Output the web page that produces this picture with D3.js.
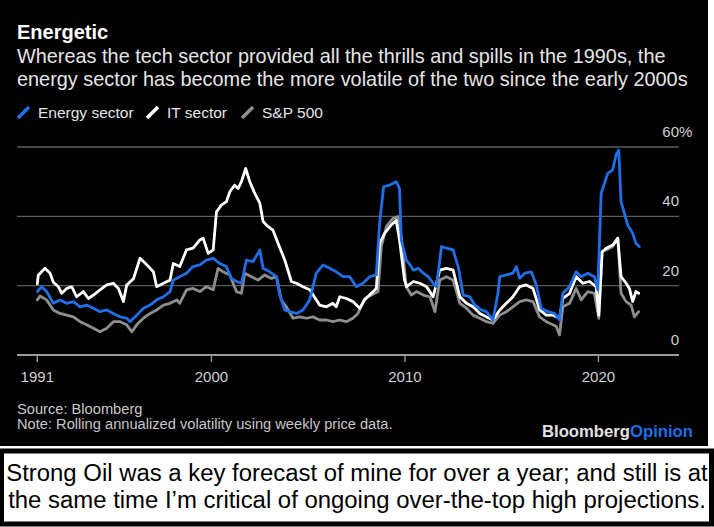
<!DOCTYPE html>
<html>
<head>
<meta charset="utf-8">
<script src="https://cdn.jsdelivr.net/npm/d3@7"></script>
<style>
  body { margin: 0; background: #fff; }
  svg { display: block; font-family: "Liberation Sans", Arial, Helvetica, sans-serif; }
</style>
</head>
<body>
<svg id="chart" width="714" height="527"></svg>
<script>
// Rolling annualized volatility (%) as [year, value].
const energy = [
  [1991.0, 18.3], [1991.22, 19.7], [1991.48, 18.3], [1991.83, 14.9], [1992.17, 15.9],
  [1992.52, 14.9], [1992.86, 15.4], [1993.21, 13.9], [1993.55, 14.4], [1993.9, 13.5],
  [1994.24, 12.5], [1994.59, 13], [1994.93, 12], [1995.28, 11], [1995.62, 10.6],
  [1995.79, 9.6], [1996.14, 11.5], [1996.48, 13.5], [1996.83, 14.4], [1997.17, 15.9],
  [1997.52, 16.8], [1997.86, 18.3], [1998.03, 21.6], [1998.36, 22.6], [1998.71, 23.6],
  [1999.05, 25.5], [1999.4, 26], [1999.74, 27.4], [2000.09, 27.9], [2000.43, 26.4],
  [2000.77, 25.5], [2001.03, 22.1], [2001.29, 21.2], [2001.55, 20.7], [2001.81, 27.4],
  [2002.15, 26.9], [2002.5, 30.3], [2002.67, 25], [2003.01, 24], [2003.36, 22.6],
  [2003.53, 17.3], [2003.79, 13], [2004.04, 12.5], [2004.39, 12], [2004.73, 13],
  [2005.08, 15.9], [2005.42, 23.6], [2005.77, 26], [2006.11, 25], [2006.45, 24],
  [2006.8, 22.6], [2007.14, 22.6], [2007.49, 19.7], [2007.83, 20.7], [2008.18, 22.6],
  [2008.52, 23.1], [2008.69, 38], [2008.9, 48.6], [2009.21, 49], [2009.55, 50],
  [2009.72, 48], [2009.81, 33.2], [2010.07, 27.4], [2010.33, 25.5], [2010.43, 24.5],
  [2010.69, 25], [2010.95, 23.6], [2011.2, 22.6], [2011.46, 20.7], [2011.63, 19.7],
  [2011.89, 31.3], [2012.15, 30.8], [2012.49, 30.3], [2012.75, 25.5], [2013.01, 17.3],
  [2013.35, 16.8], [2013.61, 14.4], [2013.95, 13], [2014.21, 12.5], [2014.55, 10.1],
  [2014.81, 17.8], [2014.9, 22.6], [2015.24, 23.1], [2015.58, 23.6], [2015.76, 25.5],
  [2015.93, 22.1], [2016.19, 23.6], [2016.53, 24], [2016.79, 20.2], [2017.04, 13.5],
  [2017.39, 12.5], [2017.73, 12], [2017.99, 10.1], [2018.16, 17.8], [2018.51, 19.7],
  [2018.85, 24], [2019.11, 22.6], [2019.45, 23.6], [2019.79, 22.6], [2019.97, 18.8],
  [2020.14, 46.6], [2020.31, 49.5], [2020.48, 52.4], [2020.74, 53.4], [2020.91, 57.7],
  [2021.05, 59.1], [2021.17, 44.2], [2021.34, 40.9], [2021.51, 37.5], [2021.77, 35.1],
  [2021.94, 32.2], [2022.11, 31.3]
];

const itSector = [
  [1991.0, 20.5], [1991.05, 23], [1991.4, 25], [1991.66, 23.6], [1991.83, 21],
  [1992.09, 19.7], [1992.26, 17.8], [1992.52, 19.2], [1992.78, 19.7], [1993.03, 16.8],
  [1993.38, 18.3], [1993.64, 16.3], [1993.9, 17.3], [1994.24, 18.8], [1994.59, 20.2],
  [1994.93, 20.7], [1995.19, 19.2], [1995.45, 15.4], [1995.62, 20.2], [1995.97, 22],
  [1996.31, 27.9], [1996.66, 26], [1997.0, 24], [1997.17, 19.7], [1997.52, 20.7],
  [1997.86, 21.6], [1998.03, 26.4], [1998.36, 25.5], [1998.71, 30.3], [1999.05, 30.8],
  [1999.4, 33.2], [1999.57, 33.7], [1999.83, 29.3], [2000.09, 30.3], [2000.26, 41.3],
  [2000.52, 43.3], [2000.77, 44.2], [2000.95, 47.1], [2001.2, 49], [2001.38, 48],
  [2001.55, 50], [2001.77, 53.8], [2001.98, 50], [2002.24, 46.6], [2002.5, 43.8],
  [2002.67, 38.5], [2002.93, 37], [2003.18, 36], [2003.44, 32.2], [2003.79, 27.4],
  [2004.13, 21.2], [2004.39, 20.7], [2004.73, 19.7], [2005.08, 18.8], [2005.42, 15.9],
  [2005.59, 14.4], [2005.94, 13.9], [2006.28, 14.9], [2006.45, 13.9], [2006.63, 16.8],
  [2006.97, 16.3], [2007.31, 15.4], [2007.66, 13.5], [2007.92, 15.9], [2008.26, 17.8],
  [2008.52, 19.2], [2008.69, 32.2], [2008.95, 35.1], [2009.29, 37.5], [2009.55, 38.9],
  [2009.72, 33.2], [2009.98, 21.6], [2010.09, 19.7], [2010.43, 21.2], [2010.77, 20.7],
  [2011.12, 19.7], [2011.46, 16.8], [2011.8, 24.5], [2012.15, 25], [2012.49, 24.5],
  [2012.84, 16.8], [2013.18, 14.9], [2013.52, 13.9], [2013.87, 12], [2014.21, 11],
  [2014.55, 10.1], [2014.9, 13], [2015.24, 14.9], [2015.58, 16.8], [2015.93, 19.7],
  [2016.27, 20.2], [2016.62, 19.2], [2016.96, 13], [2017.3, 11.5], [2017.65, 11.5],
  [2017.99, 10.6], [2018.16, 16.3], [2018.51, 17.8], [2018.85, 22.6], [2019.19, 20.7],
  [2019.54, 21.2], [2019.88, 19.7], [2020.02, 11.5], [2020.19, 29.8], [2020.4, 30.8],
  [2020.74, 31.7], [2021.0, 33.7], [2021.17, 22.6], [2021.43, 20.7], [2021.6, 19.2],
  [2021.77, 15.4], [2021.94, 18.3], [2022.08, 17.8]
];

const sp500 = [
  [1991.0, 15.9], [1991.14, 17], [1991.48, 15.9], [1991.83, 13], [1992.17, 12],
  [1992.52, 11.5], [1992.86, 11], [1993.21, 9.6], [1993.55, 8.7], [1993.9, 7.7],
  [1994.24, 6.7], [1994.59, 7.7], [1994.93, 9.6], [1995.28, 9.6], [1995.62, 8.7],
  [1995.88, 6.7], [1996.14, 8.7], [1996.48, 10.6], [1996.83, 12], [1997.17, 13],
  [1997.52, 14.4], [1997.86, 14.9], [1998.21, 15.9], [1998.36, 14.9], [1998.71, 18.8],
  [1999.05, 19.2], [1999.4, 18.3], [1999.74, 19.7], [2000.09, 18.8], [2000.34, 25],
  [2000.6, 24], [2000.95, 23.1], [2001.29, 18.3], [2001.55, 17.8], [2001.72, 23.6],
  [2002.07, 22.6], [2002.41, 21.6], [2002.75, 23.1], [2003.1, 22.1], [2003.36, 22.6],
  [2003.61, 15.9], [2003.87, 13.9], [2004.22, 10.6], [2004.56, 11], [2004.91, 10.6],
  [2005.25, 11], [2005.59, 10.1], [2005.94, 10.1], [2006.28, 9.6], [2006.63, 10.1],
  [2006.97, 9.6], [2007.31, 10.6], [2007.57, 12], [2007.92, 16.3], [2008.26, 17.3],
  [2008.61, 18.3], [2008.78, 31.3], [2009.04, 37], [2009.38, 39.4], [2009.64, 39.9],
  [2009.81, 34.1], [2010.07, 19.7], [2010.33, 17.3], [2010.6, 18.3], [2010.95, 17.3],
  [2011.29, 16.8], [2011.55, 12.5], [2011.8, 21.6], [2012.15, 22.6], [2012.49, 21.6],
  [2012.84, 14.9], [2013.18, 13.5], [2013.52, 11.5], [2013.87, 10.6], [2014.21, 9.6],
  [2014.55, 9.1], [2014.9, 11.5], [2015.24, 12.5], [2015.58, 13.9], [2015.93, 15.4],
  [2016.27, 15.9], [2016.62, 15.4], [2016.96, 11], [2017.3, 9.6], [2017.65, 8.7],
  [2017.82, 8.2], [2017.99, 5.8], [2018.16, 13.9], [2018.51, 14.9], [2018.85, 19.2],
  [2019.11, 15.9], [2019.45, 18.3], [2019.79, 17.8], [2020.02, 10.6], [2020.19, 29.8],
  [2020.4, 30.3], [2020.74, 31.3], [2021.0, 33.7], [2021.17, 17.8], [2021.43, 15.4],
  [2021.69, 14.4], [2021.86, 11], [2022.08, 12.5]
];

const seriesNames = ["Energy sector", "IT sector", "S&P 500"];
const xTicks = [1991, 2000, 2010, 2020];
const yTicks = [0, 20, 40, 60];

const title = "Energetic";
const subtitle = [
  "Whereas the tech sector provided all the thrills and spills in the 1990s, the",
  "energy sector has become the more volatile of the two since the early 2000s"
];
const footnotes = ["Source: Bloomberg", "Note: Rolling annualized volatility using weekly price data."];
const caption = [
  "Strong Oil was a key forecast of mine for over a year; and still is at",
  "the same time I\u2019m critical of ongoing over-the-top high projections."
];

const colors = { energy: "#1f6fe8", it: "#ffffff", sp: "#8e8e8e" };

const svg = d3.select("#chart");

// Shrink or grow a text group so one of its lines takes the given width.
function fitWidth(group, node, size, width) {
  group.attr("font-size", size * width / node.getComputedTextLength());
}

// Black chart panel.
svg.append("rect").attr("x", 0).attr("y", 0).attr("width", 708).attr("height", 446).attr("fill", "#000");

// Scales.
const x = d3.scaleLinear().domain([1991, 2022.5]).range([37.3, 646.8]);
const y = d3.scaleLinear().domain([0, 60]).range([355, 147]);
const left = 17, right = 679;

// Title and subtitle.
svg.append("text").attr("x", 17).attr("y", 39)
  .attr("fill", "#fff").attr("font-size", 20).attr("font-weight", "bold").text(title);

const sub = svg.append("g").attr("fill", "#e6e6e6").attr("font-size", 18);
const subLines = sub.selectAll("text").data(subtitle).join("text")
  .attr("x", 17).attr("y", (d, i) => 63 + i * 23).text(d => d);
fitWidth(sub, subLines.nodes()[1], 18, 671);

// Legend.
const legendX = [18, 147, 242];
const legendColors = [colors.energy, colors.it, colors.sp];
const legend = svg.append("g");
seriesNames.forEach((name, i) => {
  legend.append("line")
    .attr("x1", legendX[i]).attr("y1", 118).attr("x2", legendX[i] + 11).attr("y2", 107)
    .attr("stroke", legendColors[i]).attr("stroke-width", 3.5);
  legend.append("text").attr("x", legendX[i] + 20).attr("y", 118)
    .attr("fill", "#e6e6e6").attr("font-size", 15.5).text(name);
});

// Gridlines and y labels.
svg.append("g").selectAll("line").data(yTicks.filter(d => d > 0)).join("line")
  .attr("x1", left).attr("x2", right).attr("y1", d => y(d)).attr("y2", d => y(d))
  .attr("stroke", "#5c5c5c").attr("stroke-width", 1.4);

const yLab = svg.append("g").attr("fill", "#d0d0d0").attr("font-size", 15);
yLab.selectAll("text").data(yTicks).join("text")
  .attr("x", right).attr("y", d => y(d) - 10).attr("text-anchor", "end").text(d => d);
yLab.append("text").attr("x", right).attr("y", y(60) - 10).text("%");

// Lines: S&P at the back, energy on top.
const line = d3.line().x(d => x(d[0])).y(d => y(d[1]));
[[sp500, colors.sp], [itSector, colors.it], [energy, colors.energy]].forEach(([data, c]) => {
  svg.append("path").datum(data).attr("d", line)
    .attr("fill", "none").attr("stroke", c).attr("stroke-width", 2.8)
    .attr("stroke-linejoin", "round").attr("stroke-linecap", "round");
});

// X axis.
svg.append("line").attr("x1", left).attr("x2", right).attr("y1", y(0)).attr("y2", y(0))
  .attr("stroke", "#9a9a9a").attr("stroke-width", 1.8);
const xAxis = svg.append("g");
xAxis.selectAll("line").data(xTicks).join("line")
  .attr("x1", d => x(d)).attr("x2", d => x(d)).attr("y1", y(0)).attr("y2", y(0) + 7)
  .attr("stroke", "#9a9a9a").attr("stroke-width", 1.4);
xAxis.selectAll("text").data(xTicks).join("text")
  .attr("x", d => x(d)).attr("y", 382).attr("text-anchor", "middle")
  .attr("fill", "#d0d0d0").attr("font-size", 15).text(d => d);

// Footer.
const foot = svg.append("g").attr("fill", "#c8c8c8").attr("font-size", 14);
const footLines = foot.selectAll("text").data(footnotes).join("text")
  .attr("x", 17).attr("y", (d, i) => 414 + i * 15.3).text(d => d);
fitWidth(foot, footLines.nodes()[1], 14, 376);

const brand = svg.append("text").attr("x", 693).attr("y", 437).attr("text-anchor", "end")
  .attr("font-size", 17).attr("font-weight", "bold")
  .attr("textLength", 151).attr("lengthAdjust", "spacingAndGlyphs");
brand.append("tspan").attr("fill", "#e2e2e2").text("Bloomberg");
brand.append("tspan").attr("fill", "#1f6fe8").text("Opinion");

// Caption box under the chart.
svg.append("rect").attr("x", 1.5).attr("y", 451).attr("width", 710).attr("height", 73)
  .attr("fill", "#fff").attr("stroke", "#000").attr("stroke-width", 5);
const cap = svg.append("g").attr("fill", "#000").attr("font-size", 21);
const capLines = cap.selectAll("text").data(caption).join("text")
  .attr("x", 357).attr("y", (d, i) => 481 + i * 27).attr("text-anchor", "middle")
  .text(d => d);
fitWidth(cap, capLines.nodes()[0], 21, 702);
</script>
</body>
</html>
